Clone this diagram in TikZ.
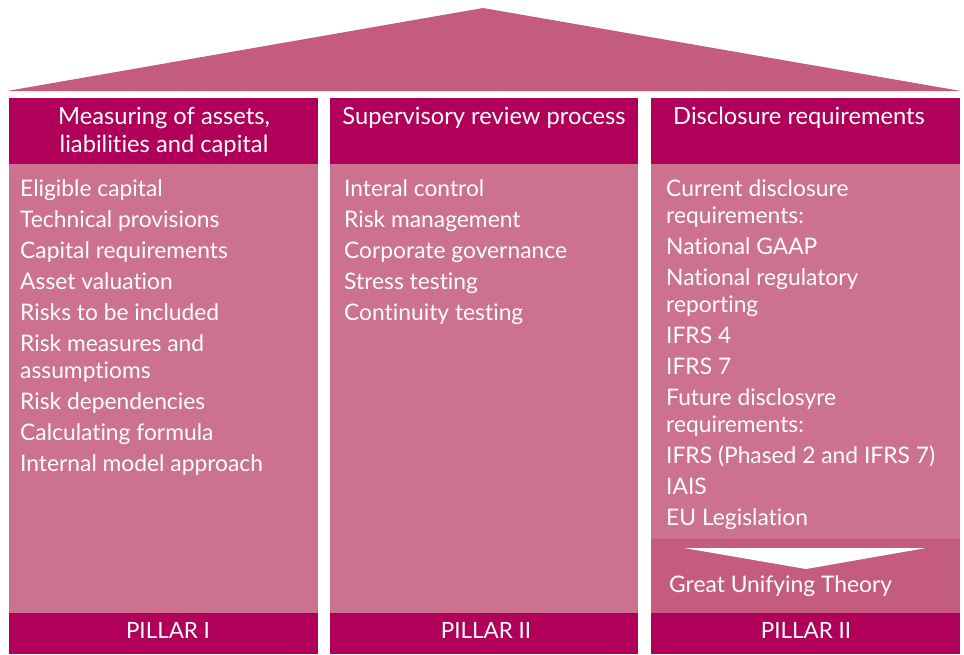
\documentclass[tikz,border=0pt]{standalone}
\usepackage{fontspec}
\setmainfont{Lato}[Ligatures={NoCommon,NoDiscretionary,NoContextual}]
\definecolor{hdr}{RGB}{176,0,90}
\definecolor{bodyc}{RGB}{204,113,144}
\definecolor{roofc}{RGB}{196,92,128}
\tikzset{
  hdrbox/.style={fill=hdr,draw=none},
  bodybox/.style={fill=bodyc,draw=none},
  rooffill/.style={fill=roofc,draw=none},
  hdrtext/.style={text=white,font=\fontsize{23.7}{28}\selectfont,align=center,inner sep=0pt},
  listtext/.style={text=white,font=\fontsize{22.8}{27}\selectfont,align=left,inner sep=0pt,anchor=north west},
  pillartext/.style={text=white,font=\fontsize{22.4}{24}\selectfont,inner sep=0pt}
}
\begin{document}
\begin{tikzpicture}[x=1pt,y=-1pt]
\useasboundingbox (0,0) rectangle (964,654);
% roof
\path[rooffill] (7,91) -- (483,8) -- (961,91) -- cycle;
% columns
\foreach \n/\l/\r in {a/9/318,b/330/638,c/651/960}{
  \path[hdrbox] (\l,98) rectangle (\r,164);
  \path[bodybox] (\l,164) rectangle (\r,613);
  \path[hdrbox] (\l,613) rectangle (\r,654);
}
% great unifying theory band
\path[rooffill] (651,539) rectangle (960,613);
\path[fill=white] (684,548) -- (926,548) -- (806,569) -- cycle;
% headers
\node[hdrtext] (h1) at (164,132) {Measuring of assets,\\liabilities and capital};
\node[hdrtext] (h2) at (484,118) {Supervisory review process};
\node[hdrtext] (h3) at (799,118) {Disclosure requirements};
% lists
\node[listtext] (l1) at (20,179) {Eligible capital\\[4pt]
Technical provisions\\[4pt]
Capital requirements\\[4pt]
Asset valuation\\[4pt]
Risks to be included\\[4pt]
Risk measures and\\
assumptioms\\[4pt]
Risk dependencies\\[4pt]
Calculating formula\\[4pt]
Internal model approach};
\node[listtext] (l2) at (344,180) {Interal control\\[4pt]
Risk management\\[4pt]
Corporate governance\\[4pt]
Stress testing\\[4pt]
Continuity testing};
\node[listtext] (l3) at (666,179) {Current disclosure\\
requirements:\\[4pt]
National GAAP\\[4pt]
National regulatory\\
reporting\\[4pt]
IFRS 4\\[4pt]
IFRS 7\\[4pt]
Future disclosyre\\
requirements:\\[4pt]
IFRS (Phased 2 and IFRS 7)\\[4pt]
IAIS\\[4pt]
EU Legislation};
\node[listtext] (g) at (669,575) {Great Unifying Theory};
% pillars
\node[pillartext] (p1) at (168,630) {PILLAR I};
\node[pillartext] (p2) at (486,630) {PILLAR II};
\node[pillartext] (p3) at (806,630) {PILLAR II};
\end{tikzpicture}
\end{document}
